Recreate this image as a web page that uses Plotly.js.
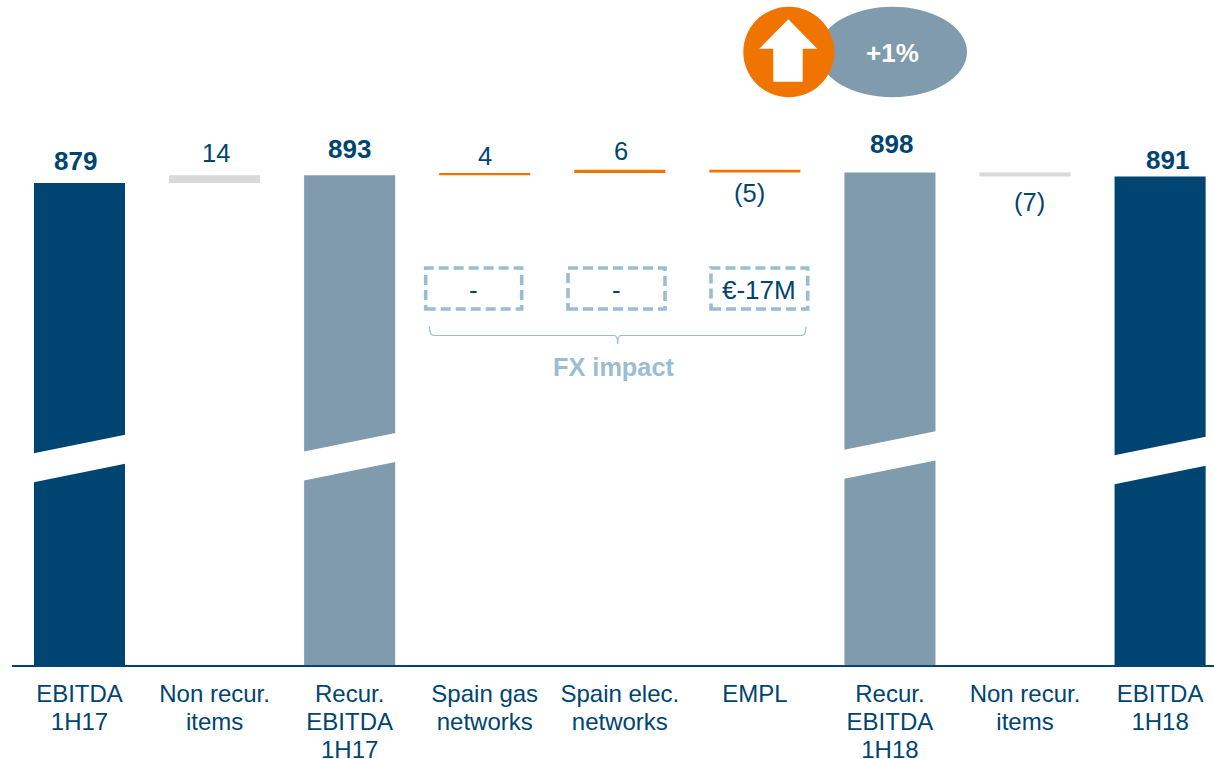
<!DOCTYPE html>
<html>
<head>
<meta charset="utf-8">
<script src="https://cdn.plot.ly/plotly-3.0.1.min.js"></script>
<style>html,body{margin:0;padding:0;background:#fff;overflow:hidden}</style>
</head>
<body>
<div id="chart" style="width:1214px;height:759px"></div>
<script>
// ---- data ----
const categories = ["EBITDA<br>1H17","Non recur.<br>items","Recur.<br>EBITDA<br>1H17","Spain gas<br>networks","Spain elec.<br>networks","EMPL","Recur.<br>EBITDA<br>1H18","Non recur.<br>items","EBITDA<br>1H18"];
const barBase   = [0, 879, 0, 893, 897, 898, 0, 891, 0];
const barLength = [879, 14, 893, 4, 6, 5, 898, 7, 891];
const barColors = ["#004571","#D9D9D9","#7F9BAD","#F07400","#F07400","#F07400","#7F9BAD","#D9D9D9","#004571"];
const labelText = ["879","14","893","4","6","(5)","898","(7)","891"];
const labelBold = [true,false,true,false,false,false,true,false,true];
const labelDx   = [-4,1.5,0,0,1.5,-5,2,4,7];
const labelDy   = [22,22.5,26,17,19,-23,28.5,-29,16];
const brokenBars = [0,2,6,8];
const breakLower = [333,336,339,329];
const fxBoxes = ["-","-","€-17M"];

// ---- layout constants ----
const W=1214,H=759,mL=12,mB=94;
const navy="#004571",light="#9ABDD4",slate="#7F9BAD",orange="#F07400";
const px=x=>(x-mL)/(W-mL);
const py=y=>(H-mB-y)/(H-mB);
const barW=0.674, breakGap=52.9, breakRise=34.6;

const shapes=[];
// white slanted axis-break bands across the tall bars
brokenBars.forEach((b,i)=>{
  const l=b-barW/2-0.01,r=b+barW/2+0.01,y=breakLower[i];
  shapes.push({type:"path",xref:"x",yref:"y",layer:"above",fillcolor:"#fff",line:{width:0},
    path:`M ${l} ${y} L ${r} ${y+breakRise} L ${r} ${y+breakRise+breakGap} L ${l} ${y+breakGap} Z`});
});
// dashed FX boxes
[[425.7,521.7],[568,665],[711,807.7]].forEach(b=>{
  shapes.push({type:"rect",xref:"paper",yref:"paper",x0:px(b[0]),x1:px(b[1]),y0:py(309),y1:py(268),
    line:{color:light,width:3.6,dash:"10px,5px"},fillcolor:"rgba(0,0,0,0)"});
});
// bracket
const B=(x,y)=>`${px(x)} ${py(y)}`;
shapes.push({type:"path",xref:"paper",yref:"paper",line:{color:light,width:1.2},
  path:`M ${B(429.5,326.5)} Q ${B(429.5,335.5)} ${B(434,335.5)} L ${B(614,335.5)} Q ${B(617.7,335.5)} ${B(617.7,344)} Q ${B(617.7,335.5)} ${B(621,335.5)} L ${B(802,335.5)} Q ${B(806,335.5)} ${B(806,326.5)}`});
// ellipse, circle, arrow
shapes.push({type:"circle",xref:"paper",yref:"paper",x0:px(818),x1:px(967),y0:py(97.3),y1:py(6.7),fillcolor:slate,line:{width:0}});
shapes.push({type:"circle",xref:"paper",yref:"paper",x0:px(743.3),x1:px(834.3),y0:py(97.3),y1:py(6.7),fillcolor:orange,line:{width:0}});
shapes.push({type:"path",xref:"paper",yref:"paper",fillcolor:"#fff",line:{width:0},
  path:`M ${B(788.3,19.3)} L ${B(817.3,48.7)} L ${B(802.7,48.7)} L ${B(802.7,81.7)} L ${B(773.3,81.7)} L ${B(773.3,48.7)} L ${B(759.3,48.7)} Z`});

const annotations=[];
labelText.forEach((t,i)=>{
  annotations.push({x:i,y:barBase[i]+barLength[i],xref:"x",yref:"y",xshift:labelDx[i],yshift:labelDy[i],
    text:labelBold[i]?`<b>${t}</b>`:t,showarrow:false,xanchor:"center",yanchor:"middle",
    font:{family:"Liberation Sans",size:labelBold[i]?26:25.5,color:navy}});
});
const pa=(x,y,text,size,color)=>({xref:"paper",yref:"paper",x:px(x),y:py(y),text,showarrow:false,xanchor:"center",yanchor:"middle",
  font:{family:"Liberation Sans",size,color}});
annotations.push(pa(473,290,fxBoxes[0],26,navy));
annotations.push(pa(616,290,fxBoxes[1],26,navy));
annotations.push(pa(758.5,290,fxBoxes[2],26,navy));
annotations.push(pa(613,367,"<b>FX impact</b>",25.3,light));
annotations.push(pa(892,53,"<b>+1%</b>",26,"#fff"));

const tickSize=24;
const trace={type:"bar",x:categories.map((c,i)=>i),y:barLength,base:barBase,width:barW,
  marker:{color:barColors,line:{width:0}},hoverinfo:"skip"};

const layout={
  width:W,height:H,margin:{l:mL,r:0,t:0,b:mB,pad:0},
  paper_bgcolor:"#fff",plot_bgcolor:"#fff",showlegend:false,
  font:{family:"Liberation Sans",color:navy},
  xaxis:{range:[-0.4997,8.399],tickmode:"array",tickvals:categories.map((c,i)=>i),ticktext:categories,
    tickangle:0,tickfont:{family:"Liberation Sans",size:tickSize,color:navy},
    ticks:"outside",ticklen:6.5,tickcolor:"rgba(0,0,0,0)",showgrid:false,zeroline:false,
    showline:true,linecolor:navy,linewidth:1.6,fixedrange:true},
  yaxis:{range:[0,1212.7],visible:false,showgrid:false,zeroline:false,fixedrange:true},
  shapes,annotations
};
Plotly.newPlot("chart",[trace],layout,{displayModeBar:false,staticPlot:true}).then(()=>{
  // tighten multi-line tick labels to the reference's 28px leading
  document.querySelectorAll(".xtick text tspan.line").forEach(t=>{
    const d=parseFloat(t.getAttribute("dy"));
    if(d) t.setAttribute("dy",(d/1.3*(28/tickSize))+"em");
  });
});
</script>
</body>
</html>
